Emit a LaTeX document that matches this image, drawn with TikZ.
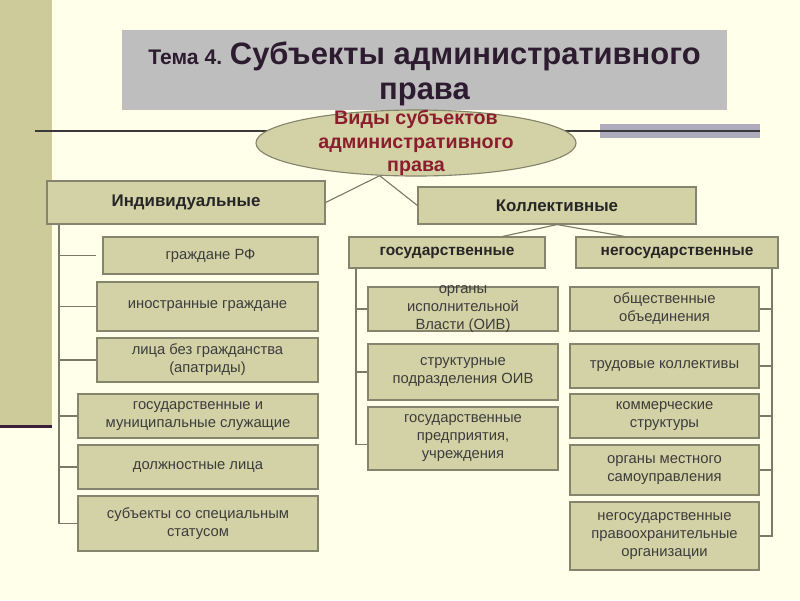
\documentclass[tikz,border=0pt]{standalone}
\usepackage{fontspec}
\setmainfont{Liberation Sans}
\usetikzlibrary{shapes.geometric,positioning,calc}
\definecolor{bgcream}{HTML}{FFFFEA}
\definecolor{stripolive}{HTML}{CCCB99}
\definecolor{stripink}{HTML}{3C1F3A}
\definecolor{boxfill}{HTML}{D3D2A6}
\definecolor{boxline}{HTML}{85856D}
\definecolor{titlegray}{HTML}{BEBEBE}
\definecolor{bandgray}{HTML}{ADACBC}
\definecolor{rulerink}{HTML}{3A3A3A}
\definecolor{titleink}{HTML}{2D1B30}
\definecolor{ovalink}{HTML}{8C1D2E}
\definecolor{textgray}{HTML}{3C3C3C}
\definecolor{connline}{HTML}{7A7A66}

\begin{document}
\begin{tikzpicture}[x=0.025cm, y=-0.025cm,
  box/.style={draw=boxline, line width=0.8pt, fill=boxfill, text=textgray, align=center, inner sep=1pt, font=\fontsize{10.5}{12.8}\selectfont},
  boxtext/.style={box, draw=none, fill=none},
  headbox/.style={box, text=black!85, font=\fontsize{12}{14}\selectfont\bfseries},
  subhead/.style={box, text=black!85, font=\fontsize{11}{13}\selectfont\bfseries},
  conn/.style={draw=connline, line width=0.8pt}]
  % page and left strip
  \fill[bgcream] (0,0) rectangle (800,600);
  \useasboundingbox (0,0) rectangle (800,600);
  \fill[stripolive] (0,0) rectangle (52,425);
  \fill[stripink] (0,425) rectangle (52,428);

  % title
  \node[fill=titlegray, minimum width=15.125cm, minimum height=2cm] (title) at (424.5,70) {};
  \node[align=center, text=titleink, font=\fontsize{22}{24.5}\selectfont\bfseries] (titletext) at ([yshift=-0.1cm]title.center)
    {\fontsize{15}{24.5}\selectfont Тема 4. \fontsize{22}{24.5}\selectfont Субъекты административного\\права};
  \fill[bandgray] (600,124) rectangle (760,138);
  \draw[rulerink, line width=1.4pt] (35,131) -- (760,131);

  % root oval
  \node[ellipse, draw=boxline, line width=0.8pt, fill=boxfill, minimum width=8cm, minimum height=1.65cm] (vid) at (416,143) {};
  \node[align=center, text=ovalink, font=\fontsize{14}{16.6}\selectfont\bfseries] (vidtext) at (vid.center) {Виды субъектов\\административного\\права};

  % two main groups
  \node[headbox, minimum width=6.95cm, minimum height=1.075cm] (ind) at (186,202.5) {Индивидуальные};
  \node[headbox, minimum width=6.95cm, minimum height=0.925cm] (kol) at (557,205.5) {Коллективные};
  \draw[conn] (vid.222) -- (ind.east);
  \draw[conn] (vid.222) -- (kol.west);

  \node[subhead, minimum width=4.9cm, minimum height=0.775cm] (gos) at (447,252.5) {государственные};
  \node[subhead, minimum width=5.05cm, minimum height=0.775cm] (negos) at (677,252.5) {негосударственные};
  \draw[conn] (kol.south) -- ([xshift=-1.075cm]gos.north east);
  \draw[conn] (kol.south) -- ([xshift=1.225cm]negos.north west);

  % individual subjects
  \node[box, minimum width=5.375cm, minimum height=0.925cm] (l1) at (210.5,255.5) {граждане РФ};
  \node[box, minimum width=5.525cm, minimum height=1.225cm] (l2) at (207.5,306.5) {иностранные граждане};
  \node[box, minimum width=5.525cm, minimum height=1.1cm] (l3) at (207.5,360) {лица без гражданства\\(апатриды)};
  \node[box, minimum width=6cm, minimum height=1.1cm] (l4) at (198,416) {государственные и\\муниципальные служащие};
  \node[box, minimum width=6cm, minimum height=1.1cm] (l5) at (198,467) {должностные лица};
  \node[box, minimum width=6cm, minimum height=1.375cm] (l6) at (198,523.5) {субъекты со специальным\\статусом};

  \coordinate (ltrunk) at (59,224);
  \draw[conn] (ind.south -| ltrunk) -- (l6.west -| ltrunk) -- (l6.west);
  \draw[conn, shorten >=4.3pt] (l1.west -| ltrunk) -- (l1.west);
  \foreach \b in {l2,l3,l4,l5}
    \draw[conn] (\b.west -| ltrunk) -- (\b.west);

  % state collectives
  \node[box, minimum width=4.75cm, minimum height=1.1cm] (m1) at (463,309) {};
  \node[boxtext] (m1text) at (m1.center) {органы\\исполнительной\\Власти (ОИВ)};
  \node[box, minimum width=4.75cm, minimum height=1.4cm] (m2) at (463,372) {структурные\\подразделения ОИВ};
  \node[box, minimum width=4.75cm, minimum height=1.575cm] (m3) at (463,438.5) {государственные\\предприятия,\\учреждения};

  \coordinate (mtrunk) at (356,268);
  \draw[conn] (gos.south -| mtrunk) -- ([yshift=-0.16cm]m3.west -| mtrunk) -- ([yshift=-0.16cm]m3.west);
  \foreach \b in {m1,m2}
    \draw[conn] (\b.west -| mtrunk) -- (\b.west);

  % non-state collectives
  \node[box, minimum width=4.725cm, minimum height=1.1cm] (r1) at (664.5,309) {общественные\\объединения};
  \node[box, minimum width=4.725cm, minimum height=1.1cm] (r2) at (664.5,366) {трудовые коллективы};
  \node[box, minimum width=4.725cm, minimum height=1.1cm] (r3) at (664.5,416) {коммерческие\\структуры};
  \node[box, minimum width=4.725cm, minimum height=1.25cm] (r4) at (664.5,470) {органы местного\\самоуправления};
  \node[box, minimum width=4.725cm, minimum height=1.7cm] (r5) at (664.5,536) {негосударственные\\правоохранительные\\организации};

  \coordinate (rtrunk) at (772,268);
  \draw[conn] (negos.south -| rtrunk) -- (r5.east -| rtrunk) -- (r5.east);
  \foreach \b in {r1,r2,r3,r4}
    \draw[conn] (\b.east -| rtrunk) -- (\b.east);
\end{tikzpicture}
\end{document}
